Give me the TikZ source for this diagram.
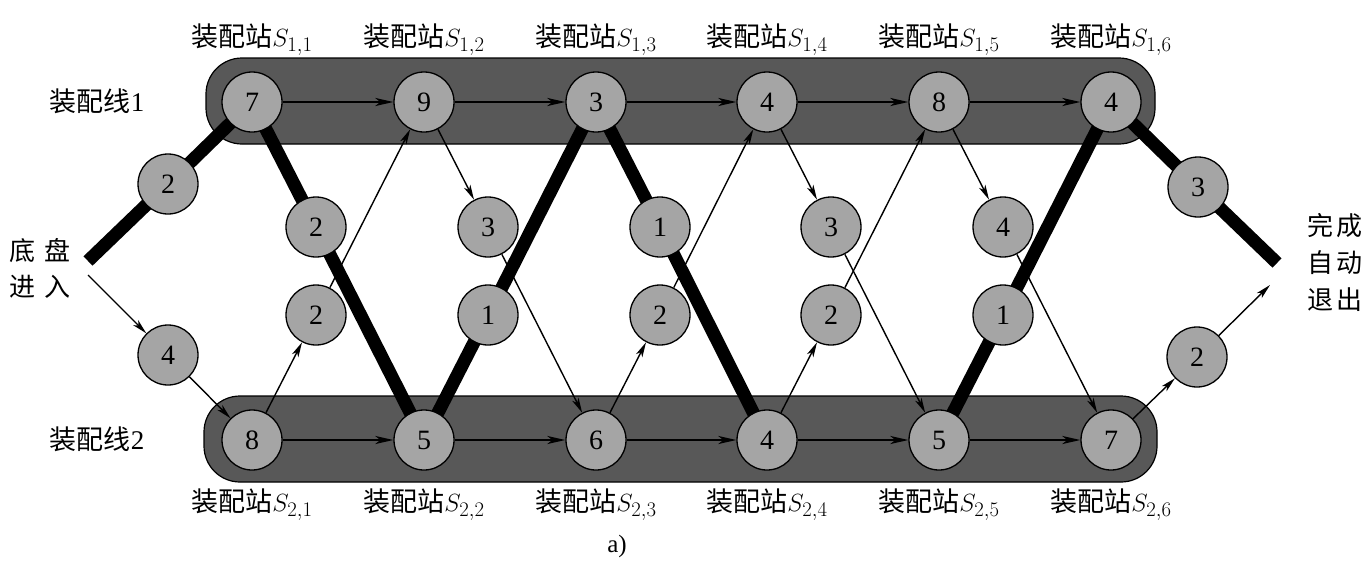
\documentclass[tikz,border=0pt]{standalone}
\usepackage{fontspec}
\setmainfont{Liberation Serif}
\newfontfamily\cjk{Noto Sans CJK SC}
\usetikzlibrary{arrows.meta}
\definecolor{bandgray}{RGB}{88,88,88}
\definecolor{cgray}{RGB}{165,165,165}
\pgfdeclarelayer{bandlayer}
\pgfdeclarelayer{edgelayer}
\pgfsetlayers{bandlayer,edgelayer,main}
\begin{document}
\begin{tikzpicture}[x=1pt,y=-1pt,
  stn/.style={circle,draw=black,line width=1.3pt,fill=cgray,minimum size=60pt,inner sep=0pt,font=\fontsize{28}{28}\selectfont},
  fastline/.style={line width=13pt,black,line join=round},
  thinarr/.style={line width=1.4pt,-{Stealth[length=15pt,width=7pt,inset=4pt]}},
  harr/.style={line width=2.2pt,-{Stealth[length=18pt,width=8pt,inset=5pt]}},
  band/.style={draw=black,line width=1.2pt,fill=bandgray,rounded corners=36pt},
  lbl/.style={font=\cjk\fontsize{27}{30}\selectfont,inner sep=0pt},
  sidelbl/.style={font=\cjk\fontsize{27}{30}\selectfont,inner sep=0pt,align=center}
]
\useasboundingbox (0,0) rectangle (1370,560);
% stations
\node[stn] (a1) at (252,102) {7};
\node[stn] (a2) at (424,102) {9};
\node[stn] (a3) at (596,102) {3};
\node[stn] (a4) at (767,102) {4};
\node[stn] (a5) at (939,102) {8};
\node[stn] (a6) at (1111,102) {4};
\node[stn] (b1) at (252,440) {8};
\node[stn] (b2) at (424,440) {5};
\node[stn] (b3) at (596,440) {6};
\node[stn] (b4) at (767,440) {4};
\node[stn] (b5) at (939,440) {5};
\node[stn] (b6) at (1111,440) {7};
% transfers
\node[stn] (u1) at (316,227) {2};
\node[stn] (u2) at (488,227) {3};
\node[stn] (u3) at (660,227) {1};
\node[stn] (u4) at (831,227) {3};
\node[stn] (u5) at (1003,227) {4};
\node[stn] (l1) at (316,315) {2};
\node[stn] (l2) at (488,315) {1};
\node[stn] (l3) at (660,315) {2};
\node[stn] (l4) at (831,315) {2};
\node[stn] (l5) at (1003,315) {1};
% entry / exit
\node[stn] (e1) at (168,184) {2};
\node[stn] (e2) at (168,355) {4};
\node[stn] (x1) at (1198,187) {3};
\node[stn] (x2) at (1197,357) {2};
\coordinate (entA) at (88,261);
\coordinate (entB) at (88,275);
\coordinate (extA) at (1277,263);
\coordinate (extB) at (1270,285);
% bands
\begin{pgfonlayer}{bandlayer}
\draw[band] (206,58) rectangle (1155,144);
\draw[band] (204,396) rectangle (1157,482);
\end{pgfonlayer}
% edges
\begin{pgfonlayer}{edgelayer}
\draw[fastline] (entA) -- (e1.center) -- (a1.center);
\draw[fastline] (a1.center) -- (u1.center) -- (b2.center);
\draw[fastline] (b2.center) -- (l2.center) -- (a3.center);
\draw[fastline] (a3.center) -- (u3.center) -- (b4.center);
\draw[fastline] (b5.center) -- (l5.center) -- (a6.center);
\draw[fastline] (a6.center) -- (x1.center) -- (extA);
\draw[thinarr] (entB) -- (e2);
\draw[thinarr] (e2) -- (b1);
\draw[thinarr] (b1) -- (l1);
\draw[thinarr] (l1) -- (a2);
\draw[thinarr] (a2) -- (u2);
\draw[thinarr] (u2) -- (b3);
\draw[thinarr] (b3) -- (l3);
\draw[thinarr] (l3) -- (a4);
\draw[thinarr] (a4) -- (u4);
\draw[thinarr] (u4) -- (b5);
\draw[thinarr] (b4) -- (l4);
\draw[thinarr] (l4) -- (a5);
\draw[thinarr] (a5) -- (u5);
\draw[thinarr] (u5) -- (b6);
\draw[thinarr] (b6) -- (x2);
\draw[thinarr] (x2) -- (extB);
\foreach \i/\j in {1/2,2/3,3/4,4/5,5/6}{
  \draw[harr] (a\i) -- (a\j);
  \draw[harr] (b\i) -- (b\j);
}
\end{pgfonlayer}
% station labels
\foreach \i/\x in {1/252,2/424,3/596,4/767,5/939,6/1111}{
  \node[lbl] (ta\i) at (\x,40) {装配站{\fontsize{30}{30}\selectfont$S_{1,\i}$}};
  \node[lbl] (tb\i) at (\x,505) {装配站{\fontsize{30}{30}\selectfont$S_{2,\i}$}};
}
\node[sidelbl] (line1) at (97,101) {装配线\fontspec{Liberation Serif}1};
\node[sidelbl] (line2) at (97,439) {装配线\fontspec{Liberation Serif}2};
\node[sidelbl,font=\cjk\fontsize{26}{36}\selectfont] (inlbl) at (40,268) {底\hspace{9pt}盘\\进\hspace{9pt}入};
\node[sidelbl,font=\cjk\fontsize{26}{37}\selectfont] (outlbl) at (1335,262) {完\hspace{4pt}成\\自\hspace{4pt}动\\退\hspace{4pt}出};
\node[inner sep=0pt,font=\fontsize{25}{25}\selectfont] (cap) at (617,546) {a)};
\end{tikzpicture}
\end{document}
